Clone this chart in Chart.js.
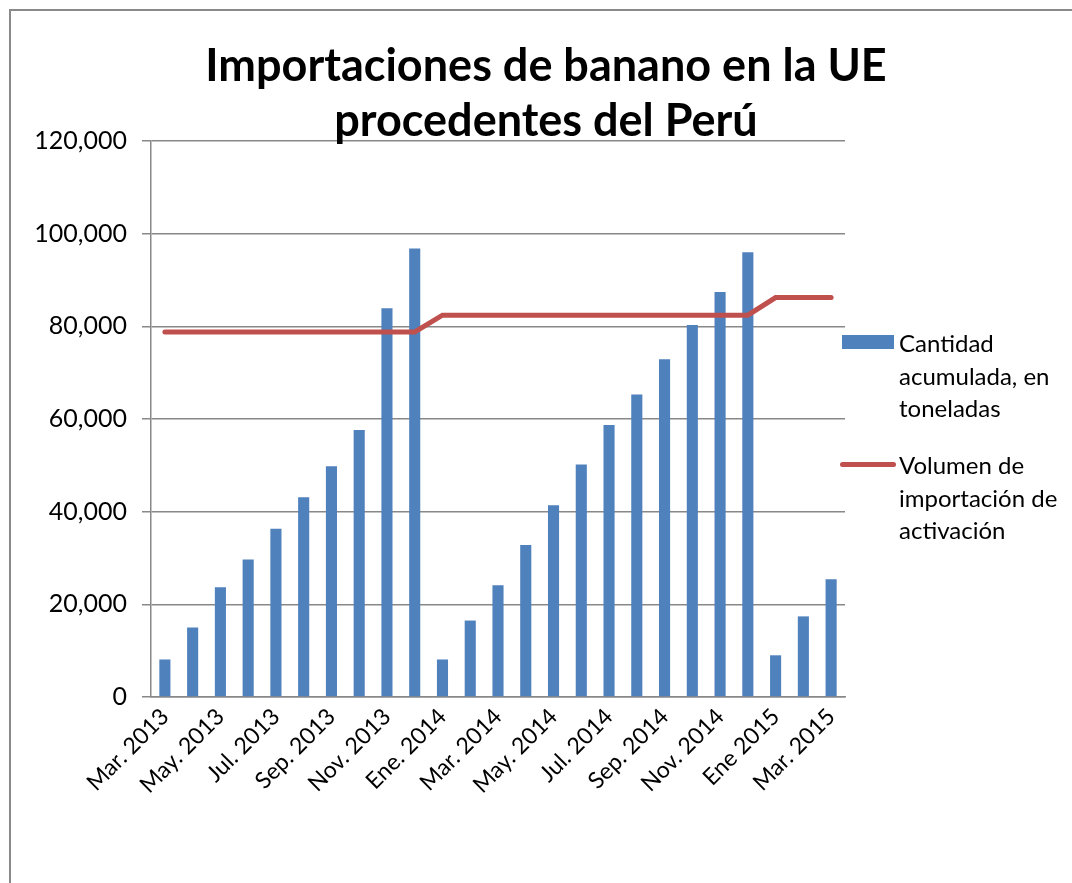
<!DOCTYPE html>
<html lang="es">
<head>
<meta charset="utf-8">
<title>Importaciones de banano en la UE procedentes del Perú</title>
<script src="https://cdn.jsdelivr.net/npm/chart.js@4.4.1/dist/chart.umd.min.js"></script>
<style>
    body { margin: 0; background: #fff; font-family: 'Lato', sans-serif; }
    #contenedor { position: relative; width: 1072px; height: 883px; overflow: hidden; }
    #marco { position: absolute; left: 9px; top: 9px; width: 1100px; height: 900px;
             border-left: 2px solid #8a8a8a; border-top: 2px solid #8a8a8a; }
    #titulo { position: absolute; left: 0; top: 37px; width: 1092px; text-align: center;
              font-weight: bold; font-size: 45px; line-height: 55px; color: #000; }
    .leyenda { position: absolute; left: 899px; font-size: 24px; line-height: 32.5px; color: #000; }
    .muestra { position: absolute; }
</style>
</head>
<body>
<div id="contenedor">
    <canvas id="graficaBanano"></canvas>
    <div id="marco"></div>
    <div id="titulo">Importaciones de banano en la UE<br>procedentes del Perú</div>
    <div class="muestra" style="left:842px; top:335px; width:52px; height:14px; background:#4F81BD;"></div>
    <div class="leyenda" style="top:327px;">Cantidad<br>acumulada, en<br>toneladas</div>
    <div class="muestra" style="left:840px; top:462px; width:56px; height:5px; border-radius:3px; background:#C0504D;"></div>
    <div class="leyenda" style="top:449px;">Volumen de<br>importación de<br>activación</div>
</div>
<script>
const meses = [
    'Mar. 2013', 'Abr. 2013', 'May. 2013', 'Jun. 2013', 'Jul. 2013', 'Ago. 2013',
    'Sep. 2013', 'Oct. 2013', 'Nov. 2013', 'Dic. 2013', 'Ene. 2014', 'Feb. 2014',
    'Mar. 2014', 'Abr. 2014', 'May. 2014', 'Jun. 2014', 'Jul. 2014', 'Ago. 2014',
    'Sep. 2014', 'Oct. 2014', 'Nov. 2014', 'Dic. 2014', 'Ene 2015', 'Feb. 2015', 'Mar. 2015'
];

// toneladas acumuladas
const cantidadAcumulada = [
    8100, 15000, 23700, 29700, 36300, 43100, 49800, 57600, 83900, 96800,
    8100, 16500, 24100, 32800, 41400, 50200, 58700, 65300, 72900, 80300, 87400, 96000,
    9000, 17400, 25400
];

const volumenActivacion = [
    78800, 78800, 78800, 78800, 78800, 78800, 78800, 78800, 78800, 78800,
    82400, 82400, 82400, 82400, 82400, 82400, 82400, 82400, 82400, 82400, 82400, 82400,
    86200, 86200, 86200
];

const ticksY = [0, 20000, 40000, 60000, 80000, 100000, 120000];

const ctx = document.getElementById('graficaBanano').getContext('2d');

new Chart(ctx, {
    type: 'bar',
    data: {
        labels: meses,
        datasets: [{
            type: 'line',
            label: 'Volumen de importación de activación',
            data: volumenActivacion,
            borderColor: '#C0504D',
            backgroundColor: '#C0504D',
            borderWidth: 5,
            borderCapStyle: 'round',
            pointRadius: 0,
            tension: 0,
            order: 0
        }, {
            label: 'Cantidad acumulada, en toneladas',
            data: cantidadAcumulada,
            backgroundColor: '#4F81BD',
            categoryPercentage: 1,
            barPercentage: 0.4,
            order: 1
        }]
    },
    options: {
        responsive: true,
        maintainAspectRatio: false,
        animation: false,
        layout: {
            padding: { top: 141, right: 227, bottom: 0, left: 0 }
        },
        plugins: {
            legend: { display: false },
            title: { display: false },
            tooltip: { enabled: false }
        },
        scales: {
            x: {
                grid: { display: false, drawTicks: false },
                border: { display: true, color: '#888888', width: 1.5 },
                ticks: {
                    autoSkip: false,
                    maxRotation: 45,
                    minRotation: 45,
                    padding: 6,
                    color: '#000',
                    font: { family: 'Lato', size: 23 },
                    callback: function (valor, indice) {
                        return indice % 2 === 0 ? this.getLabelForValue(valor) : '';
                    }
                },
                afterFit: (escala) => { escala.height = 883 - 697; }
            },
            y: {
                min: 0,
                max: 120000,
                afterBuildTicks: (escala) => { escala.ticks = ticksY.map(v => ({ value: v })); },
                grid: { color: '#888888', lineWidth: 1.5, tickLength: 9 },
                border: { display: true, color: '#888888', width: 1.5 },
                ticks: {
                    padding: 15,
                    color: '#000',
                    font: { family: 'Lato', size: 25 },
                    callback: (valor) => valor.toLocaleString('en-US')
                },
                afterFit: (escala) => { escala.width = 151; }
            }
        }
    }
});
</script>
</body>
</html>
